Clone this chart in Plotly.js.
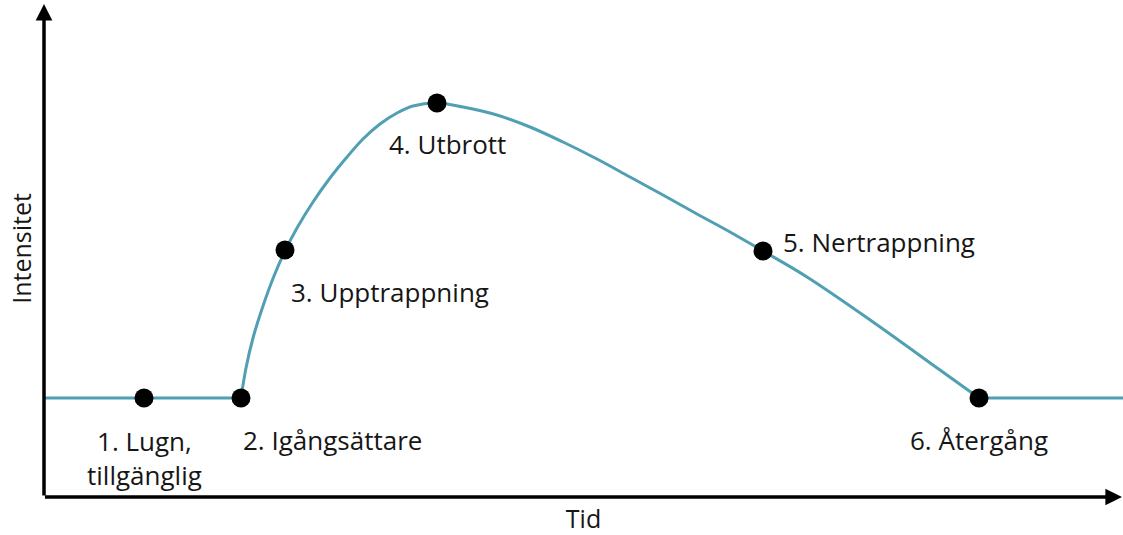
<!DOCTYPE html>
<html>
<head>
<meta charset="utf-8">
<script src="https://cdn.plot.ly/plotly-3.0.1.min.js"></script>
<style>
html,body{margin:0;padding:0;background:#fff;}
#chart{width:1123px;height:535px;}
</style>
</head>
<body>
<div id="chart"></div>
<script>
// Stage markers
const stageLabels = ["1. Lugn,<br>tillgänglig", "2. Igångsättare", "3. Upptrappning", "4. Utbrott", "5. Nertrappning", "6. Återgång"];
const stageX = [10, 19.7, 24.1, 39.3, 71.9, 93.5];
const stageY = [0.99, 0.99, 2.47, 3.94, 2.46, 0.99];

// Calm baseline before the trigger
const calmX = [0, 19.7];
const calmY = [0.99, 0.99];

// Escalation, outburst and de-escalation curve
const curveX = [19.7, 20.2, 20.9, 21.9, 23.0, 24.1, 25.3, 26.9, 28.6, 30.3, 31.9, 33.6, 35.3, 36.9, 39.3,
                41.9, 45.3, 48.6, 51.9, 55.3, 58.6, 61.9, 65.3, 68.6, 71.9, 76.3, 82.9, 89.6, 93.5];
const curveY = [0.99, 1.29, 1.59, 1.91, 2.21, 2.46, 2.69, 2.95, 3.19, 3.40, 3.58, 3.73, 3.84, 3.91, 3.94,
                3.90, 3.82, 3.70, 3.55, 3.38, 3.20, 3.02, 2.83, 2.65, 2.46, 2.20, 1.75, 1.27, 0.99];

// Recovery baseline
const recoveryX = [93.5, 107.9];
const recoveryY = [0.99, 0.99];

const xTitle = "Tid";
const yTitle = "Intensitet";

const lineColor = "#509fb3";
const labelFont = {family: "Open Sans, sans-serif", size: 26, color: "#161616"};
const titleFont = {family: "Open Sans, sans-serif", size: 25, color: "#161616"};

const traces = [
  {x: calmX, y: calmY, mode: "lines", line: {color: lineColor, width: 3}, hoverinfo: "skip"},
  {x: curveX, y: curveY, mode: "lines", line: {color: lineColor, width: 3, shape: "spline", smoothing: 1}, hoverinfo: "skip"},
  {x: recoveryX, y: recoveryY, mode: "lines", line: {color: lineColor, width: 3}, hoverinfo: "skip"},
  {x: stageX, y: stageY, mode: "markers", marker: {color: "#000", size: 19}, cliponaxis: false, hoverinfo: "skip"}
];

// label offsets (pixels) relative to each stage point
const labelStyle = [
  {xanchor: "center", xshift: 0, yshift: -60},
  {xanchor: "left", xshift: 0, yshift: -42},
  {xanchor: "left", xshift: 4, yshift: -42},
  {xanchor: "center", xshift: 10, yshift: -41},
  {xanchor: "left", xshift: 18, yshift: 9},
  {xanchor: "center", xshift: 0, yshift: -42}
];

const annotations = stageLabels.map((t, i) => ({
  x: stageX[i], y: stageY[i], xref: "x", yref: "y", text: t, showarrow: false,
  xanchor: labelStyle[i].xanchor, yanchor: "middle",
  xshift: labelStyle[i].xshift, yshift: labelStyle[i].yshift,
  font: labelFont, align: "center"
}));

// axis arrows
annotations.push({
  xref: "paper", yref: "paper", x: 0, y: 0.992, axref: "pixel", ayref: "pixel",
  ax: 0, ay: 493, showarrow: true, arrowhead: 2, arrowsize: 0.95, arrowwidth: 3.5, arrowcolor: "#000", text: ""
});
annotations.push({
  xref: "paper", yref: "paper", x: 0.9995, y: 0, axref: "pixel", ayref: "pixel",
  ax: -1079, ay: 0, showarrow: true, arrowhead: 2, arrowsize: 0.95, arrowwidth: 3.5, arrowcolor: "#000", text: ""
});

const layout = {
  width: 1123, height: 535,
  margin: {l: 44, r: 0, t: 0, b: 38},
  paper_bgcolor: "#fff", plot_bgcolor: "#fff",
  showlegend: false,
  xaxis: {range: [0, 107.9], showgrid: false, zeroline: false, showticklabels: false, ticks: "",
          showline: false, fixedrange: true,
          title: {text: xTitle, font: titleFont, standoff: 16}},
  yaxis: {range: [0, 4.97], showgrid: false, zeroline: false, showticklabels: false, ticks: "",
          showline: false, fixedrange: true,
          title: {text: yTitle, font: titleFont, standoff: 4}},
  annotations: annotations
};

Plotly.newPlot("chart", traces, layout, {displayModeBar: false, staticPlot: true});
</script>
</body>
</html>
